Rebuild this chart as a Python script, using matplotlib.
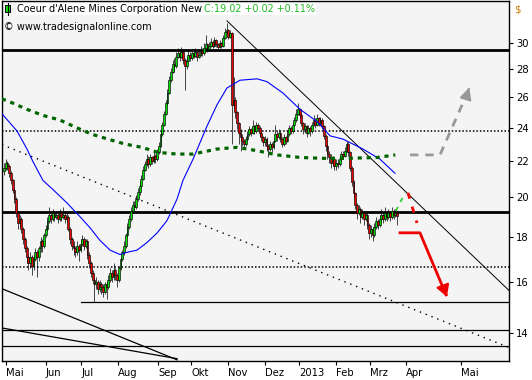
import matplotlib
matplotlib.use('Agg')
import matplotlib.pyplot as plt
from matplotlib.patches import Rectangle
from matplotlib.lines import Line2D
from matplotlib.ticker import FixedLocator, FixedFormatter, NullLocator
import numpy as np

plt.rcParams['font.family'] = ['DejaVu Sans']

# daily candles, bar index -1 is the first session shown; open = previous close
first_open = 21.4
closes = [
    21.6, 21.9, 21.7, 21.3, 20.9, 20.4, 19.9, 19.2, 18.7, 18.9,
    18.4, 17.9, 17.5, 17.1, 16.8, 17.1, 16.7, 17.0, 17.3, 17.1,
    17.5, 17.8, 17.6, 18.1, 18.4, 18.8, 19.1, 18.9, 19.2, 19.0,
    19.1, 18.9, 19.2, 19.0, 19.1, 18.9, 19.0, 18.4, 17.9, 17.6,
    17.5, 17.3, 17.6, 17.4, 17.7, 17.9, 17.6, 17.8, 17.2, 16.8,
    16.4, 16.1, 15.9, 16.0, 15.7, 15.9, 15.8, 15.6, 15.9, 15.8,
    16.1, 16.4, 16.2, 16.5, 16.3, 16.1, 16.6, 17.0, 17.3, 17.6,
    18.1, 18.5, 18.9, 19.3, 19.6, 19.5, 19.9, 20.3, 20.6, 21.0,
    21.5, 21.8, 22.1, 21.8, 22.2, 22.0, 22.3, 22.1, 22.5, 22.9,
    23.6, 24.2, 24.9, 25.6, 26.3, 27.2, 27.8, 28.4, 28.2, 28.9,
    29.2, 28.9, 29.3, 28.7, 28.2, 28.6, 29.1, 28.8, 29.2, 29.0,
    29.3, 28.9, 29.1, 29.4, 29.2, 29.6, 29.9, 29.5, 29.8, 30.1,
    29.8, 30.2, 29.9, 29.7, 30.0, 29.8, 30.4, 30.9, 31.0, 30.5,
    30.8, 25.5, 25.8, 25.0, 24.3, 23.7, 23.4, 23.2, 23.0, 23.3,
    23.6, 23.9, 23.7, 24.1, 23.8, 24.2, 24.0, 23.7, 23.4, 23.1,
    23.3, 22.9, 22.7, 23.0, 22.8, 23.2, 23.6, 23.4, 23.7, 23.3,
    23.0, 23.4, 23.2, 23.6, 24.0, 23.8, 24.2, 24.5, 24.9, 25.2,
    24.8, 24.3, 23.9, 24.1, 23.7, 24.0, 23.8, 24.2, 24.5, 24.2,
    24.6, 24.3, 24.5, 24.1, 23.5, 22.9, 22.4, 22.2, 21.9, 22.1,
    21.7, 21.9, 21.8, 22.1, 22.4, 22.3, 22.6, 23.0, 22.5, 21.6,
    20.8, 20.2, 19.6, 19.2, 19.4, 19.0, 19.2, 18.9, 19.1, 18.6,
    18.2, 18.4, 18.1, 18.5, 18.8, 18.6, 18.9, 19.1, 18.9, 19.2,
    19.0, 19.2, 19.0, 19.3, 19.1, 19.2, 19.02,
]
highs = [
    21.9, 22.1, 22.0, 21.8, 21.4, 21.0, 20.5, 20.0, 19.3, 19.1,
    19.0, 18.5, 18.0, 17.6, 17.2, 17.3, 17.2, 17.2, 17.5, 17.4,
    17.6, 18.0, 17.9, 18.2, 18.6, 19.0, 19.5, 19.2, 19.4, 19.3,
    19.3, 19.2, 19.4, 19.3, 19.5, 19.2, 19.2, 19.1, 18.5, 18.0,
    17.8, 17.6, 17.8, 17.7, 17.9, 18.1, 18.0, 17.9, 17.9, 17.3,
    16.9, 16.5, 16.2, 16.2, 16.1, 16.1, 16.0, 15.9, 16.0, 16.0,
    16.3, 16.6, 16.5, 16.8, 16.6, 16.4, 16.7, 17.1, 17.4, 17.8,
    18.2, 18.7, 19.1, 19.5, 19.8, 19.8, 20.1, 20.5, 20.8, 21.2,
    21.7, 22.0, 22.4, 22.3, 22.4, 22.3, 22.5, 22.4, 22.7, 23.1,
    23.8, 24.4, 25.1, 25.8, 26.6, 27.5, 28.1, 28.7, 28.8, 29.3,
    29.6, 29.4, 29.7, 29.4, 28.8, 28.9, 29.4, 29.3, 29.5, 29.4,
    29.6, 29.4, 29.4, 29.8, 29.6, 30.0, 30.6, 30.0, 30.1, 30.4,
    30.2, 30.5, 30.3, 30.0, 30.2, 30.1, 30.6, 31.2, 31.6, 31.1,
    31.0, 30.9, 27.4, 26.0, 25.1, 24.4, 23.9, 23.6, 23.3, 23.5,
    23.8, 24.1, 24.0, 24.5, 24.2, 24.4, 24.3, 24.1, 23.8, 23.5,
    23.5, 23.4, 23.0, 23.2, 23.1, 23.4, 24.2, 23.8, 23.9, 23.8,
    23.4, 23.6, 23.5, 23.8, 24.2, 24.1, 24.4, 24.7, 25.2, 25.6,
    25.3, 24.9, 24.4, 24.3, 24.2, 24.2, 24.1, 24.4, 24.8, 24.6,
    24.9, 24.7, 24.7, 24.6, 24.2, 23.6, 23.0, 22.6, 22.4, 22.3,
    22.2, 22.1, 22.1, 22.3, 22.6, 22.6, 22.8, 23.2, 23.1, 22.6,
    21.7, 20.9, 20.3, 19.7, 19.6, 19.5, 19.4, 19.3, 19.3, 19.2,
    18.7, 18.6, 18.5, 18.7, 19.0, 18.9, 19.1, 19.4, 19.2, 19.5,
    19.3, 19.4, 19.3, 19.5, 19.4, 19.4, 19.3,
]
lows = [
    21.2, 21.5, 21.5, 21.1, 20.7, 20.2, 19.7, 19.0, 18.4, 18.5,
    18.2, 17.7, 17.3, 16.8, 16.5, 16.6, 16.3, 16.5, 16.9, 16.2,
    16.9, 17.3, 17.3, 17.5, 18.0, 18.3, 18.7, 18.7, 18.8, 18.8,
    18.9, 18.7, 18.8, 18.8, 18.9, 18.7, 18.8, 18.3, 17.7, 17.4,
    17.2, 17.1, 17.2, 16.9, 17.3, 17.6, 17.4, 17.5, 17.0, 16.6,
    16.2, 15.9, 15.2, 15.7, 15.5, 15.6, 15.5, 15.4, 15.5, 15.3,
    15.7, 16.0, 16.0, 16.1, 16.1, 15.8, 16.0, 16.5, 16.9, 17.2,
    17.5, 18.0, 18.4, 18.8, 19.2, 19.3, 19.4, 19.8, 20.1, 20.5,
    20.9, 21.4, 21.7, 21.6, 21.7, 21.8, 21.9, 21.9, 22.0, 22.4,
    22.8, 23.5, 24.1, 24.8, 25.5, 26.2, 27.1, 27.7, 27.9, 28.1,
    28.8, 28.6, 28.8, 28.4, 26.5, 28.0, 28.5, 28.6, 28.7, 28.8,
    28.9, 28.6, 28.8, 29.0, 29.0, 29.1, 29.5, 29.3, 29.4, 29.7,
    29.6, 29.7, 29.7, 29.5, 29.6, 29.6, 29.7, 30.3, 30.7, 30.3,
    30.4, 23.0, 25.3, 24.6, 23.9, 23.0, 22.6, 22.9, 22.7, 22.9,
    23.2, 23.5, 23.5, 23.6, 23.6, 23.7, 23.8, 23.5, 23.2, 22.9,
    22.9, 22.6, 22.2, 22.6, 22.5, 22.7, 23.1, 23.2, 23.3, 23.1,
    22.8, 22.9, 23.0, 23.1, 23.5, 23.6, 23.7, 24.1, 24.4, 24.8,
    24.6, 24.1, 23.6, 23.7, 23.4, 23.6, 23.5, 23.7, 24.1, 24.0,
    24.1, 24.1, 24.2, 23.9, 23.3, 22.6, 22.1, 21.9, 21.6, 21.7,
    21.5, 21.5, 21.6, 21.7, 22.0, 22.1, 22.2, 22.5, 22.3, 21.4,
    20.6, 20.0, 19.4, 18.9, 19.1, 18.7, 18.9, 18.6, 18.8, 18.4,
    17.9, 18.0, 17.8, 18.0, 18.4, 18.4, 18.5, 18.8, 18.7, 18.8,
    18.8, 18.9, 18.8, 18.9, 18.9, 19.0, 18.6,
]

# blue moving average (bar index, price)
blue_x = [-2.15, 6.5, 12.2, 15.7, 21.4, 27.2, 35.2, 42.7, 48.5, 54.2, 60.0, 65.7,
          69.7, 75.5, 81.2, 87.0, 92.7, 98.5, 101.9, 107.7, 115.7, 121.5, 127.2,
          134.7, 144.5, 150.2, 159.4, 169.2, 179.0, 186.5, 193.9, 205.4, 215.2, 223.8]
blue_y = [24.9, 23.8, 22.7, 21.95, 20.9, 20.4, 19.7, 19.0, 18.45, 17.85, 17.4, 17.2,
          17.3, 17.4, 17.75, 18.2, 18.8, 19.9, 20.9, 22.1, 24.1, 25.5, 26.65,
          27.2, 27.3, 27.1, 26.3, 25.2, 24.4, 23.5, 23.3, 22.7, 22.1, 21.3]

# long green moving average (dotted)
green_x = [-2.2, 2.3, 12.1, 21.3, 31.1, 40.9, 49.5, 58.7, 68.5, 78.3, 87.5, 98.4,
           107.7, 121.5, 133.0, 144.5, 156.0, 169.3, 182.5, 196.3, 213.6, 224.0]
green_y = [25.9, 25.7, 25.2, 24.8, 24.5, 24.0, 23.6, 23.3, 23.0, 22.8, 22.5, 22.4,
           22.4, 22.7, 22.8, 22.6, 22.35, 22.2, 22.15, 22.15, 22.2, 22.35]

# support / resistance levels
thick_levels = [29.47, 19.24]
dotted_levels = [23.8, 16.65]
thin_levels = [14.11, 13.54]
support_low = 15.19

month_labels = ['Mai', 'Jun', 'Jul', 'Aug', 'Sep', 'Okt', 'Nov', 'Dez', '2013',
                'Feb', 'Mrz', 'Apr', 'Mai']
month_pos = [0.2, 22.9, 43.3, 64.6, 87.6, 106.8, 127.8, 149.1, 168.9, 190.2,
             209.5, 230.2, 261.8]
price_ticks = [14, 16, 18, 20, 22, 24, 26, 28, 30]

W, H = 532, 380
fig = plt.figure(figsize=(W / 100, H / 100), dpi=100)
fig.patch.set_facecolor('white')
ax = fig.add_axes([2 / W, 1 - 361 / H, 507 / W, 360 / H])
ax.set_facecolor('#f4f4f4')
ax.set_yscale('log')
ax.set_xlim(-2.15, 289.4)
ax.set_ylim(13.0, 33.5)

# levels
for lv in thick_levels:
    ax.axhline(lv, color='black', lw=2.0, zorder=2)
for lv in dotted_levels:
    ax.axhline(lv, color='black', lw=1.1, ls=(0, (1, 1.3)), zorder=2)
for lv in thin_levels:
    ax.axhline(lv, color='black', lw=0.9, zorder=2)
ax.plot([43.3, 300], [support_low, support_low], color='black', lw=0.9, zorder=2)

# trend lines
ax.plot([127.2, 289.4], [31.8, 15.65], color='black', lw=0.7, zorder=2)
ax.plot([-2.15, 289.4], [22.96, 13.47], color='black', lw=1.0, ls=(0, (1, 3.5)), zorder=2)
ax.plot([-2.15, 98.5], [15.72, 13.04], color='black', lw=0.9, zorder=2)
ax.plot([-2.15, 98.5], [14.18, 13.08], color='black', lw=0.9, zorder=2)

# moving averages
ax.plot(blue_x, blue_y, color='#0000ff', lw=0.8, zorder=5)
ax.plot(green_x, green_y, color='#006400', lw=2.3, ls=(0, (1.3, 1.5)), zorder=5)

# candles
c = np.array(closes)
o = np.array([first_open] + closes[:-1])
hi = np.array(highs)
lo = np.array(lows)
idx = np.arange(len(c)) - 1
up = c >= o
colors = np.where(up, '#00e000', '#ee0000')
ax.vlines(idx, lo, hi, color='black', lw=0.5, zorder=3)
bottom = np.minimum(o, c)
height = np.maximum(np.abs(c - o), 0.05)
ax.bar(idx, height, bottom=bottom, width=1.05, color=colors, edgecolor='black',
       lw=0.45, zorder=4)

# projections
ax.plot([224.4, 229.6], [19.29, 20.23], color='#33cc33', lw=1.3, ls=(0, (2.5, 3)), zorder=6)
ax.plot([231.3, 236.5], [20.23, 18.69], color='#ee0000', lw=2.0, ls=(0, (2.2, 3)), zorder=6)
ax.plot([232.5, 249.7, 266.0], [22.35, 22.35, 26.45], color='#999999', lw=2.0,
        ls=(0, (3, 2.5)), zorder=6)
ax.annotate('', xy=(267.0, 26.87), xytext=(265.8, 26.4),
            arrowprops=dict(arrowstyle='-|>,head_width=0.35,head_length=0.7',
                            color='#999999', lw=1.5, mutation_scale=10))
ax.plot([226.7, 238.2, 253.2], [18.21, 18.21, 15.47], color='#ee0000', lw=2.0, zorder=6)
ax.annotate('', xy=(253.7, 15.39), xytext=(252.6, 15.6),
            arrowprops=dict(arrowstyle='-|>,head_width=0.4,head_length=0.7',
                            color='#ee0000', lw=1.5, mutation_scale=10))

# axes styling
ax.yaxis.tick_right()
ax.yaxis.set_major_locator(FixedLocator(price_ticks))
ax.yaxis.set_major_formatter(FixedFormatter([str(t) for t in price_ticks]))
ax.yaxis.set_minor_locator(NullLocator())
ax.set_xticks(month_pos)
ax.set_xticklabels(month_labels)
for lab in ax.get_xticklabels():
    lab.set_horizontalalignment('left')
ax.tick_params(axis='both', direction='out', length=3, width=0.8, labelsize=7.2,
               pad=2, colors='black')
for sp in ax.spines.values():
    sp.set_linewidth(1.0)
    sp.set_color('black')

# header
fig.add_artist(Line2D([7.5 / W, 7.5 / W], [1 - 3 / H, 1 - 15 / H], color='black', lw=0.8))
fig.add_artist(Rectangle((5 / W, 1 - 12 / H), 5 / W, 7 / H, facecolor='#00e000',
                         edgecolor='black', lw=0.7))
fig.text(17 / W, 1 - 9 / H, "Coeur d'Alene Mines Corporation New", fontsize=7.0,
         va='center', ha='left', color='black',
         bbox=dict(facecolor='white', edgecolor='none', pad=1.0))
fig.text(204 / W, 1 - 9 / H, 'C:19.02 +0.02 +0.11%', fontsize=6.9, va='center',
         ha='left', color='#22bb22',
         bbox=dict(facecolor='white', edgecolor='none', pad=1.0))
fig.text(4 / W, 1 - 27 / H, '\u00a9 www.tradesignalonline.com', fontsize=7.0,
         va='center', ha='left', color='black')
fig.text(514 / W, 1 - 10 / H, '$', fontsize=7.3, va='center', ha='left', color='#cc7a00')

fig.savefig('out.png', dpi=100)
